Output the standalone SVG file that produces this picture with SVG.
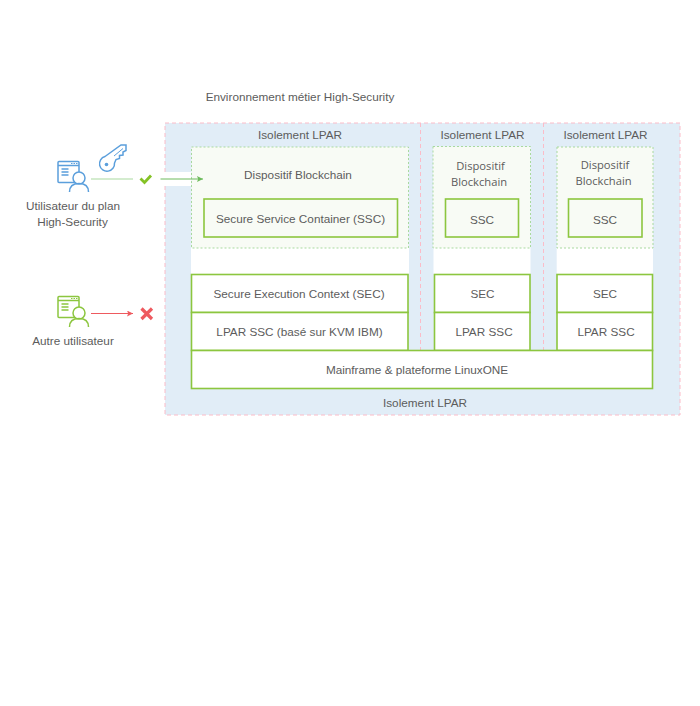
<svg xmlns="http://www.w3.org/2000/svg" width="700" height="706" viewBox="0 0 700 706">
<defs>
<marker id="ag" markerWidth="7" markerHeight="7" refX="6" refY="3" orient="auto" markerUnits="userSpaceOnUse"><path d="M0 0L6 3L0 6L1.2 3Z" fill="#6dbb5c"/></marker>
<marker id="ar" markerWidth="7" markerHeight="7" refX="6" refY="3" orient="auto" markerUnits="userSpaceOnUse"><path d="M0 0L6 3L0 6L1.2 3Z" fill="#ee5a5f"/></marker>
<g id="win"><rect x="0.5" y="0.5" width="21" height="21" rx="1" fill="none" stroke-width="1.5"/><path d="M0.5 4.5H21.5M4 8H11M4 11H11M4 14H11" fill="none" stroke-width="1.5"/><path d="M13.5 2.5h1.5M16 2.5h1.5M18.5 2.5h1.5" fill="none" stroke-width="1"/></g>
</defs>
<style>
text{font-family:"Liberation Sans",sans-serif;font-size:11.750px;fill:#5c5c5c;text-anchor:middle}
.cp{font-family:"Open Sans","Liberation Sans",sans-serif;font-size:11.200px}
.dev{fill:#f8fbf5;stroke:#a9d99f;stroke-width:1;stroke-dasharray:2 2}
.box{fill:#fff;stroke:#8cc63f;stroke-width:1.600}
.ssc{fill:#f8fbf5;stroke:#8cc63f;stroke-width:1.600}
.iso{fill:none;stroke:#fbbcc8;stroke-width:1;stroke-dasharray:4 3}
.blue{stroke:#5b9fdc;fill:none}
.grn{stroke:#8cc63f;fill:none}
</style>
<rect width="700" height="706" fill="#fff"/>
<g id="background">
<rect x="165" y="123" width="515" height="292" fill="#e1edf7"/>
<rect x="164" y="172" width="27" height="14" fill="#fff"/>
<rect x="191" y="248" width="218" height="26" fill="#fff"/>
<rect x="433.500" y="248" width="97" height="26" fill="#fff"/>
<rect x="556.700" y="248" width="96.300" height="26" fill="#fff"/>
<path class="iso" d="M165 172V123H680V415H165V186"/>
<path class="iso" d="M420.500 123V350M543.500 123V350"/>
</g>
<text id="title" x="300" y="101">Environnement métier High-Security</text>
<g id="iso1"><text x="300" y="139">Isolement LPAR</text></g>
<g id="iso2"><text x="482.500" y="139">Isolement LPAR</text></g>
<g id="iso3"><text x="605.500" y="139">Isolement LPAR</text></g>
<g id="iso4"><text x="425" y="407">Isolement LPAR</text></g>
<g id="device1"><rect class="dev" x="191.500" y="147" width="217" height="101"/><text x="298" y="179">Dispositif Blockchain</text></g>
<g id="ssc1"><rect class="ssc" x="204" y="199" width="193.500" height="38"/><text x="300.500" y="223">Secure Service Container (SSC)</text></g>
<g id="device2"><rect class="dev" x="433" y="146.500" width="97.500" height="101.500"/><text class="cp" x="480.500" y="170">Dispositif</text><text class="cp" x="479" y="186">Blockchain</text></g>
<g id="ssc2"><rect class="ssc" x="445.500" y="199" width="73" height="38"/><text x="482" y="224">SSC</text></g>
<g id="device3"><rect class="dev" x="557" y="147" width="96" height="101"/><text class="cp" x="605" y="169">Dispositif</text><text class="cp" x="603.500" y="185">Blockchain</text></g>
<g id="ssc3"><rect class="ssc" x="568.500" y="199" width="73.500" height="38"/><text x="605" y="224">SSC</text></g>
<g id="sec1"><rect class="box" x="191.500" y="274.500" width="216.500" height="38"/><text x="299" y="298">Secure Execution Context (SEC)</text></g>
<g id="lpar1"><rect class="box" x="191.500" y="312.500" width="216.500" height="38"/><text x="299.500" y="336">LPAR SSC (basé sur KVM IBM)</text></g>
<g id="sec2"><rect class="box" x="434.500" y="274.500" width="95.500" height="38"/><text x="482.500" y="298">SEC</text></g>
<g id="lpar2"><rect class="box" x="434.500" y="312.500" width="95.500" height="38"/><text x="484" y="336">LPAR SSC</text></g>
<g id="sec3"><rect class="box" x="557" y="274.500" width="95.500" height="38"/><text x="605" y="298">SEC</text></g>
<g id="lpar3"><rect class="box" x="557" y="312.500" width="95.500" height="38"/><text x="606" y="336">LPAR SSC</text></g>
<g id="mainframe"><rect class="box" x="191.500" y="350.500" width="461" height="38"/><text x="417" y="374">Mainframe &amp; plateforme LinuxONE</text></g>
<g id="user1">
<use href="#win" x="57.500" y="161" class="blue"/>
<circle cx="79" cy="178" r="6" fill="#fff" stroke="#5b9fdc" stroke-width="1.500"/>
<path class="blue" stroke-width="1.500" d="M69.500 192C69.500 186 73.500 183.500 79 183.500S88.500 186 88.500 192"/>
<text x="73" y="209.500">Utilisateur du plan</text><text x="72.500" y="226">High-Security</text>
</g>
<g id="key">
<path class="blue" stroke-width="1.500" d="M105 156.500L121 145L126 145L126 150.500L123 152V155L119.500 155.500V158.500L116 159.500L114.500 163A7.500 7.500 0 1 1 105 156.500Z"/>
<circle cx="106.500" cy="164.500" r="1.800" fill="#5b9fdc"/>
<path class="blue" d="M114 156L123 148.500"/>
</g>
<g id="user2">
<use href="#win" x="57.500" y="296" class="grn"/>
<circle cx="79" cy="313" r="6" fill="#fff" stroke="#8cc63f" stroke-width="1.500"/>
<path class="grn" stroke-width="1.500" d="M69.500 327C69.500 321 73.500 318.500 79 318.500S88.500 321 88.500 327"/>
<text x="73" y="344.500">Autre utilisateur</text>
</g>
<g id="connectors">
<path d="M91 179H133" stroke="#a9d99f" stroke-width="1.200" fill="none"/>
<path d="M160.500 179H203" stroke="#6dbb5c" stroke-width="1" fill="none" marker-end="url(#ag)"/>
<path d="M91 313.500H133" stroke="#ee5a5f" stroke-width="1" fill="none" marker-end="url(#ar)"/>
</g>
<path id="check" d="M140.500 178.500L144.500 182.500L151 175.500" fill="none" stroke="#84c225" stroke-width="2.800"/>
<path id="cross" d="M141.500 308.500L152 319M152 308.500L141.500 319" fill="none" stroke="#ee5a5f" stroke-width="3.200"/>
</svg>
